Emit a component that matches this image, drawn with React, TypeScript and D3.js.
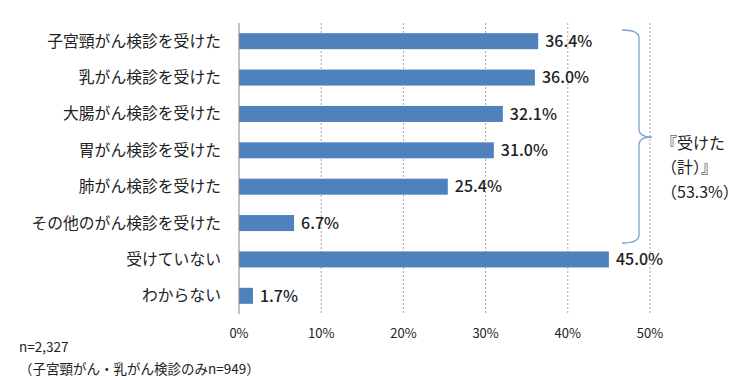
import React from "react";
import * as d3 from "d3";

const categories = [
  "子宮頸がん検診を受けた",
  "乳がん検診を受けた",
  "大腸がん検診を受けた",
  "胃がん検診を受けた",
  "肺がん検診を受けた",
  "その他のがん検診を受けた",
  "受けていない",
  "わからない",
];
const values = [36.4, 36.0, 32.1, 31.0, 25.4, 6.7, 45.0, 1.7];
const ticks = [0, 10, 20, 30, 40, 50];
const bracketLines = ["『受けた", "（計）』", "（53.3%）"];
const notes = ["n=2,327", "（子宮頸がん・乳がん検診のみn=949）"];

const W = 740;
const H = 380;
const FONT = "'Noto Sans CJK JP', 'Noto Sans', sans-serif";

export default function App() {
  const x = d3.scaleLinear().domain([0, 50]).range([239, 650]);
  const y = d3
    .scaleBand<string>()
    .domain(categories)
    .range([23, 314])
    .paddingInner(0.56)
    .paddingOuter(0.28);

  const bTop = 30;
  const bBot = 243;
  const bMid = 137;
  const bx0 = 622;
  const bx1 = 639;
  const bTip = 652;
  const r = 8;
  const bracketPath = [
    `M${bx0},${bTop}`,
    `Q${bx1},${bTop} ${bx1},${bTop + r}`,
    `L${bx1},${bMid - r}`,
    `Q${bx1},${bMid} ${bTip},${bMid}`,
    `Q${bx1},${bMid} ${bx1},${bMid + r}`,
    `L${bx1},${bBot - r}`,
    `Q${bx1},${bBot} ${bx0},${bBot}`,
  ].join(" ");

  return (
    <svg
      width={W}
      height={H}
      style={{ position: "absolute", left: 0, top: 0, background: "#fff" }}
      fontFamily={FONT}
    >
      {ticks.slice(1).map((t) => (
        <line
          key={t}
          x1={x(t)}
          x2={x(t)}
          y1={23}
          y2={314}
          stroke="#a6a6a6"
          strokeWidth={1}
          strokeDasharray="2,2"
        />
      ))}
      {categories.map((c, i) => (
        <rect
          key={c}
          x={x(0)}
          y={y(c)!}
          width={x(values[i]) - x(0)}
          height={y.bandwidth()}
          fill="#4f81bd"
        />
      ))}
      <line x1={x(0)} x2={x(0)} y1={23} y2={314} stroke="#868686" strokeWidth={1} />
      {categories.map((c, i) => (
        <text
          key={"l" + c}
          x={221}
          y={y(c)! + y.bandwidth() / 2}
          dy="0.35em"
          textAnchor="end"
          fontSize={15.8}
          fill="#222"
        >
          {c}
        </text>
      ))}
      {categories.map((c, i) => (
        <text
          key={"v" + c}
          x={x(values[i]) + 7}
          y={y(c)! + y.bandwidth() / 2}
          dy="0.36em"
          fontSize={16}
          fontWeight={500}
          fill="#222"
        >
          {values[i].toFixed(1)}%
        </text>
      ))}
      {ticks.map((t) => (
        <text
          key={"t" + t}
          x={x(t)}
          y={333}
          dy="0.35em"
          textAnchor="middle"
          fontSize={13}
          fill="#222"
        >
          {t}%
        </text>
      ))}
      <path d={bracketPath} fill="none" stroke="#7f9fd3" strokeWidth={1.3} />
      {bracketLines.map((s, i) => (
        <text
          key={s}
          x={661}
          y={143 + i * 24.5}
          dy="0.35em"
          fontSize={16}
          fill="#222"
        >
          {s}
        </text>
      ))}
      {notes.map((s, i) => (
        <text key={s} x={19} y={347 + i * 22} dy="0.35em" fontSize={13.5} fill="#222">
          {s}
        </text>
      ))}
    </svg>
  );
}
